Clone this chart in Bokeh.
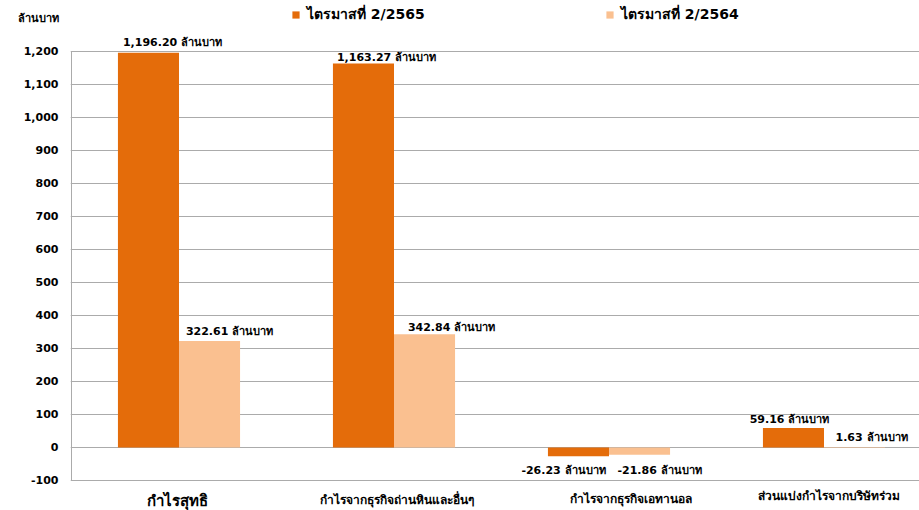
from bokeh.plotting import figure
from bokeh.models import (ColumnDataSource, Range1d, FixedTicker, Legend, LegendItem,
                          LabelSet, Label, CustomJSTickFormatter)
from bokeh.core.properties import value
from bokeh.transform import dodge
from bokeh.embed import file_html
from bokeh.resources import INLINE

categories = ["กำไรสุทธิ", "กำไรจากธุรกิจถ่านหินและอื่นๆ", "กำไรจากธุรกิจเอทานอล", "ส่วนแบ่งกำไรจากบริษัทร่วม"]
q2_2565 = [1196.20, 1163.27, -26.23, 59.16]
q2_2564 = [322.61, 342.84, -21.86, 1.63]
series_names = ["ไตรมาสที่ 2/2565", "ไตรมาสที่ 2/2564"]
y_ticks = list(range(-100, 1201, 100))
unit = "ล้านบาท"

# ---- style / layout ----
C_NEW = "#E46C0A"
C_OLD = "#FAC090"
GRID = "#ABABAB"
FONT = "DejaVu Sans"
BW = 0.284
PX_PER_CAT = 215.0
W, H = 919, 510
LEFT = 70
PX_PER_UNIT = 429.0 / 1300.0
lab_dx_new = [24, 23, -15, -4]
lab_dy_new = [10, 6, -14, 8]
lab_dx_old = [20, 27, 20, 17]
lab_dy_old = [10, 7, -16, 9]
cat_font = ["15px", "12px", "12px", "12px"]
cat_dx = [-2, 3, 22, 5]
cat_dy = [-20, -19, -18, -15]

xs = list(range(len(categories)))
step = y_ticks[1] - y_ticks[0]
unit_tick = y_ticks[-1] + step

def fmt(v):
    return f"{v:,.2f} {unit}"

src = ColumnDataSource(dict(
    x=xs, new=q2_2565, old=q2_2564,
    xn=[x - BW / 2 for x in xs], xo=[x + BW / 2 for x in xs],
    ln=[fmt(v) for v in q2_2565], lo=[fmt(v) for v in q2_2564],
    dxn=lab_dx_new, dyn=lab_dy_new, dxo=lab_dx_old, dyo=lab_dy_old,
))

x0 = -0.5 - 1.0 / PX_PER_CAT
x1 = x0 + (W - LEFT) / PX_PER_CAT
y_top = y_ticks[-1] + 51 / PX_PER_UNIT
y_bot = y_ticks[0] - (H - 480) / PX_PER_UNIT

p = figure(width=W, height=H, output_backend="svg", toolbar_location=None,
           x_range=Range1d(x0, x1), y_range=Range1d(y_bot, y_top),
           min_border_left=LEFT, min_border_right=0, min_border_top=0, min_border_bottom=0)
p.outline_line_color = None
p.background_fill_color = "white"
p.border_fill_color = "white"

r_new = p.vbar(x=dodge("x", -BW / 2, range=p.x_range), top="new", bottom=0, width=BW,
               source=src, fill_color=C_NEW, line_color=None)
r_old = p.vbar(x=dodge("x", BW / 2, range=p.x_range), top="old", bottom=0, width=BW,
               source=src, fill_color=C_OLD, line_color=None)

# left axis line (from -100 to 1200)
p.segment(x0=[-0.5], y0=[y_ticks[0]], x1=[-0.5], y1=[y_ticks[-1]], line_color=GRID, line_width=1)

p.xaxis.visible = False
p.xgrid.visible = False
p.ygrid.ticker = FixedTicker(ticks=y_ticks)
p.ygrid.grid_line_color = GRID
p.ygrid.grid_line_width = 1

p.yaxis.ticker = FixedTicker(ticks=y_ticks + [unit_tick])
p.yaxis.formatter = CustomJSTickFormatter(
    args=dict(ut=unit_tick, unit=unit),
    code="return tick == ut ? unit : tick.toLocaleString('en-US');")
p.yaxis.major_tick_line_color = None
p.yaxis.minor_tick_line_color = None
p.yaxis.major_tick_out = 0
p.yaxis.major_tick_in = 0
p.yaxis.minor_tick_out = 0
p.yaxis.axis_line_color = None
p.yaxis.major_label_standoff = 12
p.yaxis.major_label_text_font = FONT
p.yaxis.major_label_text_font_style = "bold"
p.yaxis.major_label_text_font_size = "11px"
p.yaxis.major_label_text_color = "black"

for xcol, tcol, dxc, dyc, ycol in [("xn", "ln", "dxn", "dyn", "new"), ("xo", "lo", "dxo", "dyo", "old")]:
    p.add_layout(LabelSet(x=xcol, y=ycol, text=tcol, x_offset=dxc, y_offset=dyc, source=src,
                          text_align="center", text_baseline="middle", text_font=value(FONT),
                          text_font_style="bold", text_font_size="11px", text_color="black"))

for i, c in enumerate(categories):
    p.add_layout(Label(x=i, y=y_ticks[0], x_offset=cat_dx[i], y_offset=cat_dy[i], text=c,
                       text_align="center", text_baseline="middle", text_font=FONT,
                       text_font_style="bold", text_font_size=cat_font[i], text_color="black"))

for name, r, loc in [(series_names[0], r_new, (221, 485)), (series_names[1], r_old, (535, 485))]:
    lg = Legend(items=[LegendItem(label=name, renderers=[r])], location=loc,
                glyph_width=9, glyph_height=9, label_text_font=FONT,
                label_text_font_style="bold", label_text_font_size="14px",
                label_text_color="black",
                label_standoff=7, label_height=14, padding=2, margin=0,
                border_line_color=None, background_fill_alpha=0)
    p.add_layout(lg)

open("out.html", "w").write(file_html(p, INLINE))
